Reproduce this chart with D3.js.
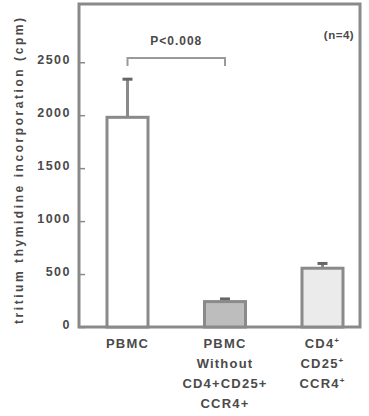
<!DOCTYPE html>
<meta charset="UTF-8">
<style>
  body { margin: 0; background: #fff; }
  svg { display: block; }
  text { font-family: "Liberation Sans", Arial, sans-serif; font-weight: bold; fill: #4a4a4a; }
</style>
<body>
<script src="https://cdn.jsdelivr.net/npm/d3@7"></script>
<script>
  // data
  var categories = ["PBMC", "PBMC w/o", "CD4 CD25 CCR4"];
  var means = [1980, 240, 555];
  var errors = [360, 25, 45];
  var fills = ["#ffffff", "#bdbdbd", "#ebebeb"];
  var yTicks = [0, 500, 1000, 1500, 2000, 2500];
  // label lines, [text, superscript]
  var labelLines = [
    [["PBMC", ""]],
    [["PBMC", ""], ["Without", ""], ["CD4+CD25+", ""], ["CCR4+", ""]],
    [["CD4", "+"], ["CD25", "+"], ["CCR4", "+"]]
  ];

  var W = 369, H = 416;
  var frame = { left: 79, right: 360, top: 4, bottom: 327 };

  var svg = d3.select("body").append("svg")
    .attr("width", W)
    .attr("height", H);

  var y = d3.scaleLinear().domain([0, 3050]).range([frame.bottom, frame.top]);
  var x = d3.scalePoint().domain(categories).range([127.5, 322.5]);
  var barW = 41;

  // frame
  svg.append("rect")
    .attr("x", frame.left).attr("y", frame.top)
    .attr("width", frame.right - frame.left)
    .attr("height", frame.bottom - frame.top)
    .attr("fill", "none")
    .attr("stroke", "#8a8a8a")
    .attr("stroke-width", 3);

  // y axis, ticks point inward
  var yAxis = d3.axisLeft(y).tickValues(yTicks).tickFormat(d3.format("d"))
    .tickSize(-6).tickPadding(8);
  var ga = svg.append("g")
    .attr("transform", "translate(" + frame.left + ",0)")
    .call(yAxis);
  ga.select(".domain").remove();
  ga.selectAll(".tick line").attr("stroke", "#8a8a8a").attr("stroke-width", 1.5);
  ga.selectAll(".tick text")
    .style("font-size", "12.5px")
    .style("letter-spacing", "1.5px")
    .attr("dy", "0.1em")
    .attr("fill", "#4a4a4a");

  svg.append("text")
    .attr("transform", "translate(23," + 171 + ") rotate(-90)")
    .attr("text-anchor", "middle")
    .attr("textLength", 306)
    .attr("lengthAdjust", "spacing")
    .style("font-size", "12px")
    .text("tritium thymidine incorporation (cpm)");

  // error bars (upper only)
  categories.forEach(function(c, i) {
    var cx = x(c);
    svg.append("line")
      .attr("x1", cx).attr("x2", cx)
      .attr("y1", y(means[i])).attr("y2", y(means[i] + errors[i]))
      .attr("stroke", "#8a8a8a").attr("stroke-width", 3);
    svg.append("line")
      .attr("x1", cx - 5).attr("x2", cx + 5)
      .attr("y1", y(means[i] + errors[i])).attr("y2", y(means[i] + errors[i]))
      .attr("stroke", "#666").attr("stroke-width", 3);
  });

  // bars
  svg.selectAll("rect.bar")
    .data(means)
    .enter().append("rect")
    .attr("class", "bar")
    .attr("x", function(d, i) { return x(categories[i]) - barW / 2; })
    .attr("y", function(d) { return y(d); })
    .attr("width", barW)
    .attr("height", function(d) { return y(0) - y(d); })
    .attr("fill", function(d, i) { return fills[i]; })
    .attr("stroke", "#8a8a8a")
    .attr("stroke-width", 3);

  // significance bracket
  var bx1 = x(categories[0]), bx2 = x(categories[1]), by = 58;
  svg.append("path")
    .attr("d", "M" + bx1 + "," + (by + 8) + "V" + by + "H" + bx2 + "V" + (by + 8))
    .attr("fill", "none")
    .attr("stroke", "#9a9a9a")
    .attr("stroke-width", 2);
  svg.append("text")
    .attr("x", (bx1 + bx2) / 2).attr("y", 45)
    .attr("text-anchor", "middle")
    .style("font-size", "12px")
    .style("letter-spacing", "1px")
    .text("P<0.008");

  svg.append("text")
    .attr("x", 339).attr("y", 39)
    .attr("text-anchor", "middle")
    .style("font-size", "11.5px")
    .style("letter-spacing", "0.5px")
    .text("(n=4)");

  // x labels
  labelLines.forEach(function(lines, i) {
    lines.forEach(function(ln, j) {
      var t = svg.append("text")
        .attr("x", x(categories[i]))
        .attr("y", 348 + j * 20)
        .attr("text-anchor", "middle")
        .style("font-size", "13px")
        .style("letter-spacing", "1.2px");
      t.append("tspan").text(ln[0]);
      if (ln[1]) {
        t.append("tspan").attr("dy", -5).style("font-size", "8px").text(ln[1]);
      }
    });
  });
</script>
</body>
